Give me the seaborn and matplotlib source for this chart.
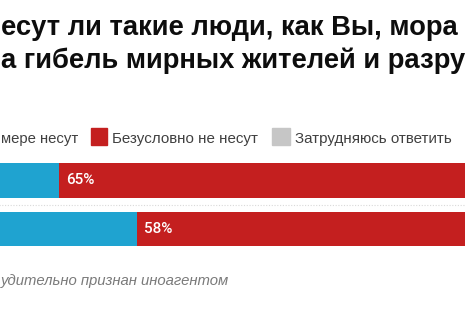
import matplotlib
matplotlib.use("Agg")
import matplotlib.pyplot as plt
from matplotlib.patches import Rectangle
import seaborn as sns
import pandas as pd

# ---- data ----
groups = ["Опрос 1", "Опрос 2"]
series_names = ["мере несут", "Безусловно не несут", "Затрудняюсь ответить"]
blue_vals = [30, 37]
red_vals = [65, 58]
gray_vals = [5, 5]
colors = ["#1fa3d0", "#c41f1f", "#c6c6c6"]
title_lines = ["есут ли такие люди, как Вы, мора",
               "а гибель мирных жителей и разру"]
footnote = "удительно признан иноагентом"

W, H = 465, 320
sns.set_theme(style="white")
plt.rcParams["font.family"] = ["Liberation Sans", "DejaVu Sans"]

fig = plt.figure(figsize=(W / 100, H / 100), dpi=100)
fig.patch.set_facecolor("white")

# axes placement in pixels
x0, scale = -275.3, 11.143          # pixel of 0 %, pixels per %
ytop, ybot = 156.25, 253.25
ax = fig.add_axes([x0 / W, 1 - ybot / H, 100 * scale / W, (ybot - ytop) / H])

df = pd.DataFrame({"group": groups, "blue": blue_vals, "red": red_vals, "gray": gray_vals})
df["c_red"] = df["blue"] + df["red"]
df["c_gray"] = df["c_red"] + df["gray"]

for col, c in [("c_gray", colors[2]), ("c_red", colors[1]), ("blue", colors[0])]:
    sns.barplot(data=df, x=col, y="group", orient="h", color=c, width=0.72,
                linewidth=0, errorbar=None, ax=ax, saturation=1)

ax.set_xlim(0, 100)
ax.set_ylim(1.5, -0.5)
ax.axhline(0.5, color="#d9d9d9", lw=0.8, ls=(0, (1, 1.5)))
ax.axis("off")

for i, (b, r) in enumerate(zip(blue_vals, red_vals)):
    ax.annotate(f"{r}%", xy=(b, i), xytext=(7, 0), textcoords="offset pixels",
                va="center", ha="left", color="white", fontsize=11,
                family=["Roboto", "DejaVu Sans"], fontweight="medium")

def fx(px):
    return px / W

def fy(py):
    return 1 - py / H

# title lines
fig.text(fx(0.5), fy(35), title_lines[0], fontsize=19.7, fontweight="bold",
         color="#0d0d0d", va="baseline", ha="left")
fig.text(fx(0.5), fy(68.3), title_lines[1], fontsize=19.7, fontweight="bold",
         color="#0d0d0d", va="baseline", ha="left")

# legend (manual)
leg_base = 142.5
tc = "#404040"
fig.text(fx(0.5), fy(leg_base), series_names[0], fontsize=10.7, color=tc,
         va="baseline", ha="left")
fig.patches.append(Rectangle((fx(90.7), fy(145)), 16.5 / W, 17 / H, color=colors[1],
                             transform=fig.transFigure, figure=fig))
fig.text(fx(112), fy(leg_base), series_names[1], fontsize=10.9, color=tc,
         va="baseline", ha="left")
fig.patches.append(Rectangle((fx(272), fy(145)), 17.5 / W, 17 / H, color=colors[2],
                             transform=fig.transFigure, figure=fig))
fig.text(fx(295), fy(leg_base), series_names[2], fontsize=10.9, color=tc,
         va="baseline", ha="left")

# footnote
fig.text(fx(0.5), fy(285), footnote, fontsize=10.7, style="italic", color="#7a7a7a",
         va="baseline", ha="left")

fig.savefig("out.png", dpi=100, facecolor="white")
